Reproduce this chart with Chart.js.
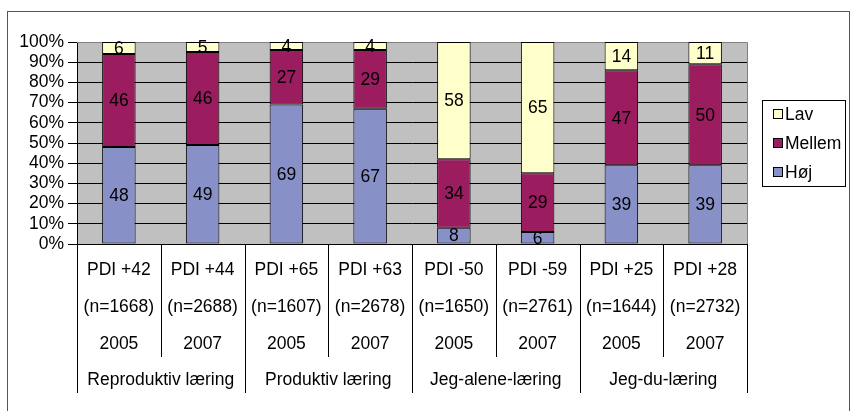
<!DOCTYPE html>
<html>
<head>
<meta charset="utf-8">
<script src="https://cdn.jsdelivr.net/npm/chart.js@4/dist/chart.umd.min.js"></script>
<style>
  html, body { margin: 0; padding: 0; background: #fff; }
  #wrap { position: relative; width: 850px; height: 411px; }
</style>
</head>
<body>
<div id="wrap"><canvas id="c" width="850" height="411"></canvas></div>
<script>
// Category labels (three text rows per bar, one group row per pair)
const pdiLabels = ['PDI +42', 'PDI +44', 'PDI +65', 'PDI +63', 'PDI -50', 'PDI -59', 'PDI +25', 'PDI +28'];
const sampleSizes = ['(n=1668)', '(n=2688)', '(n=1607)', '(n=2678)', '(n=1650)', '(n=2761)', '(n=1644)', '(n=2732)'];
const years = ['2005', '2007', '2005', '2007', '2005', '2007', '2005', '2007'];
const groups = ['Reproduktiv læring', 'Produktiv læring', 'Jeg-alene-læring', 'Jeg-du-læring'];

// Series values (percent of respondents)
const hoj = [48, 49, 69, 67, 8, 6, 39, 39];
const mellem = [46, 46, 27, 29, 34, 29, 47, 50];
const lav = [6, 5, 4, 4, 58, 65, 14, 11];

const seriesNames = ['Høj', 'Mellem', 'Lav'];
const yTickValues = [0, 10, 20, 30, 40, 50, 60, 70, 80, 90, 100];

const FONT = 'Arial, "Liberation Sans", sans-serif';
const FS = 17.5;

const labels = pdiLabels.map((p, i) => [p, sampleSizes[i], years[i]]);

// Grey plot area, plot frame and outer frame
const frames = {
  id: 'frames',
  beforeDraw(chart) {
    const { ctx, chartArea: a } = chart;
    ctx.save();
    ctx.fillStyle = '#fff';
    ctx.fillRect(0, 0, chart.width, chart.height);
    ctx.fillStyle = '#C0C0C0';
    ctx.fillRect(a.left, a.top, a.right - a.left, a.bottom - a.top);
    ctx.strokeStyle = '#555';
    ctx.lineWidth = 1;
    ctx.strokeRect(7.5, 11.5, 842, 410);
    ctx.restore();
  },
  beforeDatasetsDraw(chart) {
    const { ctx, chartArea: a } = chart;
    ctx.save();
    ctx.strokeStyle = '#808080';
    ctx.lineWidth = 1;
    ctx.beginPath();
    ctx.moveTo(a.left, Math.round(a.top) + 0.5);
    ctx.lineTo(Math.round(a.right) + 0.5, Math.round(a.top) + 0.5);
    ctx.lineTo(Math.round(a.right) + 0.5, Math.round(a.bottom));
    ctx.stroke();
    ctx.restore();
  }
};

// Value labels centred in each stacked segment
const valueLabels = {
  id: 'valueLabels',
  afterDatasetsDraw(chart) {
    const { ctx } = chart;
    ctx.save();
    ctx.font = FS + 'px ' + FONT;
    ctx.fillStyle = '#000';
    ctx.textAlign = 'center';
    ctx.textBaseline = 'middle';
    chart.data.datasets.forEach((ds, di) => {
      const meta = chart.getDatasetMeta(di);
      meta.data.forEach((el, i) => {
        const { x, y, base } = el.getProps(['x', 'y', 'base'], true);
        ctx.fillText(String(ds.data[i]), x, (y + base) / 2 + 1);
      });
    });
    ctx.restore();
  }
};

// Category separators and group names under the x axis
const categoryTable = {
  id: 'categoryTable',
  afterDraw(chart) {
    const { ctx } = chart;
    const xs = chart.scales.x;
    const n = pdiLabels.length;
    const step = xs.getPixelForValue(1) - xs.getPixelForValue(0);
    const edge = i => xs.getPixelForValue(0) - step / 2 + i * step;
    const top = xs.top;
    ctx.save();
    ctx.strokeStyle = '#000';
    ctx.lineWidth = 1;
    for (let i = 0; i <= n; i++) {
      const x = Math.round(edge(i)) + 0.5;
      ctx.beginPath();
      ctx.moveTo(x, top);
      ctx.lineTo(x, i % 2 === 0 ? top + 149 : top + 113);
      ctx.stroke();
    }
    ctx.font = FS + 'px ' + FONT;
    ctx.fillStyle = '#000';
    ctx.textAlign = 'center';
    ctx.textBaseline = 'middle';
    groups.forEach((g, gi) => {
      ctx.fillText(g, edge(gi * 2 + 1), top + 136);
    });
    ctx.restore();
  }
};

// Boxed legend, top series first
const boxLegend = {
  id: 'boxLegend',
  afterDraw(chart) {
    const { ctx } = chart;
    const ds = chart.data.datasets.slice().reverse();
    const bx = 762.5, by = 100.5, bw = 83, bh = 86;
    ctx.save();
    ctx.fillStyle = '#fff';
    ctx.fillRect(bx, by, bw, bh);
    ctx.strokeStyle = '#000';
    ctx.lineWidth = 1;
    ctx.strokeRect(bx, by, bw, bh);
    ctx.font = FS + 'px ' + FONT;
    ctx.textAlign = 'left';
    ctx.textBaseline = 'middle';
    ds.forEach((d, i) => {
      const cy = 114 + i * 29;
      ctx.fillStyle = d.backgroundColor;
      ctx.fillRect(773.5, cy - 4.5, 9, 9);
      ctx.strokeStyle = '#000';
      ctx.strokeRect(773.5, cy - 4.5, 9, 9);
      ctx.fillStyle = '#000';
      ctx.fillText(d.label, 785, cy + 1);
    });
    ctx.restore();
  }
};

const barStyle = { borderColor: '#000', borderWidth: 1, borderSkipped: false, barPercentage: 0.4, categoryPercentage: 1 };

new Chart(document.getElementById('c'), {
  type: 'bar',
  data: {
    labels: labels,
    datasets: [
      Object.assign({ label: seriesNames[0], data: hoj, backgroundColor: '#8890C8' }, barStyle),
      Object.assign({ label: seriesNames[1], data: mellem, backgroundColor: '#9B1C5F' }, barStyle),
      Object.assign({ label: seriesNames[2], data: lav, backgroundColor: '#FFFFCC' }, barStyle)
    ]
  },
  options: {
    responsive: false,
    animation: false,
    devicePixelRatio: 1,
    layout: { padding: { top: 42, right: 103, bottom: 0, left: 0 } },
    plugins: { legend: { display: false }, tooltip: { enabled: false } },
    scales: {
      x: {
        stacked: true,
        offset: true,
        grid: { display: false, drawTicks: false },
        border: { display: true, color: '#000', width: 1 },
        ticks: {
          autoSkip: false,
          maxRotation: 0,
          padding: 7.5,
          color: '#000',
          font: { family: FONT, size: FS, lineHeight: '37px' }
        },
        afterFit(axis) { axis.height = 167; }
      },
      y: {
        stacked: true,
        min: 0,
        max: 100,
        afterBuildTicks(axis) { axis.ticks = yTickValues.map(v => ({ value: v })); },
        grid: {
          color: ctx => (ctx.tick && ctx.tick.value === 100 ? '#808080' : '#000'),
          lineWidth: 1,
          tickLength: 9,
          tickColor: '#000'
        },
        border: { display: true, color: '#000', width: 1 },
        ticks: {
          autoSkip: false,
          padding: 4,
          color: '#000',
          font: { family: FONT, size: FS },
          callback: v => v + '%'
        },
        afterFit(axis) { axis.width = 77; }
      }
    }
  },
  plugins: [frames, valueLabels, categoryTable, boxLegend]
});
</script>
</body>
</html>
